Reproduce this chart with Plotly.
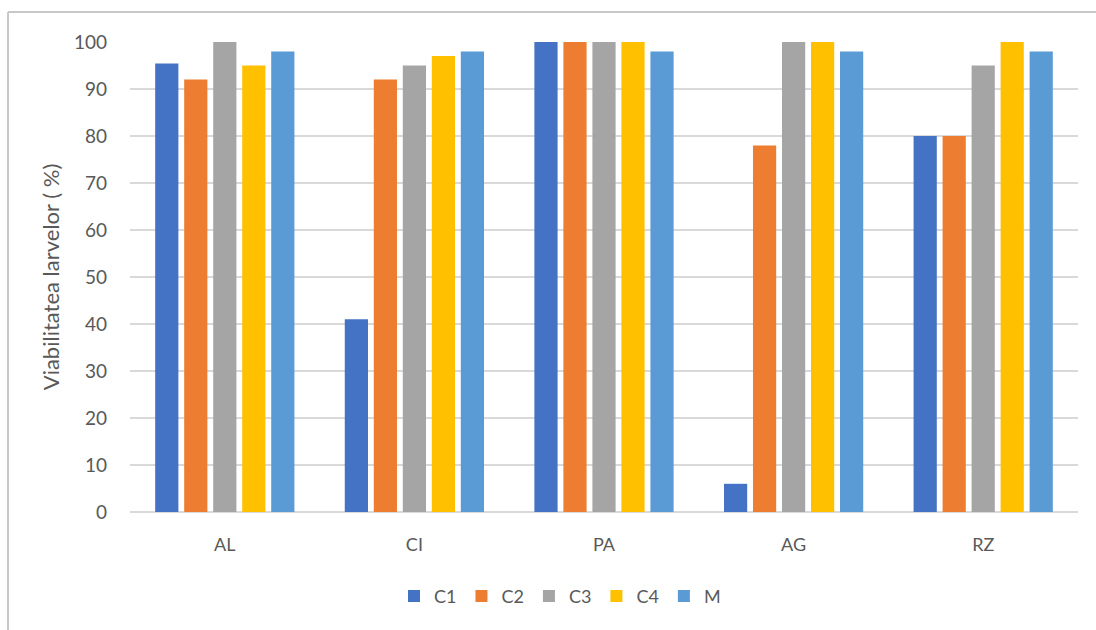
import plotly.graph_objects as go

# Larval viability per site and treatment
sites = ["AL", "CI", "PA", "AG", "RZ"]
c1 = [95.4, 41, 100, 6, 80]
c2 = [92, 92, 100, 78, 80]
c3 = [100, 95, 100, 100, 95]
c4 = [95, 97, 100, 100, 100]
m = [98, 98, 98, 98, 98]

series_names = ["C1", "C2", "C3", "C4", "M"]
series_values = [c1, c2, c3, c4, m]
colors = ["#4472C4", "#ED7D31", "#A5A5A5", "#FFC000", "#5B9BD5"]
y_ticks = list(range(0, 101, 10))

W, H = 1096, 630
L, R, T, B = 130, 18, 41.5, 117.5
pw, ph = W - L - R, H - T - B

def px_x(px):
    return (px - L) / pw

def px_y(py):
    return (H - B - py) / ph

fig = go.Figure()
for name, vals, col in zip(series_names, series_values, colors):
    fig.add_trace(go.Bar(
        x=sites, y=vals, name=name,
        marker=dict(color=col, line=dict(width=0)),
    ))

font_fam = "Lato, Open Sans, sans-serif"
text_col = "#595959"

fig.update_layout(
    width=W, height=H,
    margin=dict(l=L, r=R, t=T, b=B),
    paper_bgcolor="white", plot_bgcolor="white",
    barmode="group", bargap=0.235, bargroupgap=0.2,
    font=dict(family=font_fam, size=18, color=text_col),
    showlegend=True,
    legend=dict(
        orientation="h", x=px_x(560), xanchor="center",
        y=px_y(597), yanchor="middle",
        font=dict(size=18, color=text_col),
        itemwidth=30, traceorder="normal",
    ),
    xaxis=dict(
        showgrid=False, showline=False, zeroline=False,
        ticks="", ticklabelstandoff=20,
        tickfont=dict(size=18, color=text_col),
    ),
    yaxis=dict(
        range=[0, 100], tickvals=y_ticks,
        showgrid=True, gridcolor="#d9d9d9", gridwidth=1.5,
        zeroline=True, zerolinecolor="#d9d9d9", zerolinewidth=1.5,
        showline=False, ticks="", ticklabelstandoff=22,
        tickfont=dict(size=19, color=text_col),
        title=dict(text="Viabilitatea larvelor ( %)", standoff=8,
                   font=dict(size=22, color=text_col)),
    ),
    shapes=[
        dict(type="line", xref="paper", yref="paper",
             x0=px_x(8), x1=px_x(W + 2), y0=px_y(11.5), y1=px_y(11.5),
             line=dict(color="#c8c8c8", width=2)),
        dict(type="line", xref="paper", yref="paper",
             x0=px_x(8), x1=px_x(8), y0=px_y(11.5), y1=px_y(H + 2),
             line=dict(color="#c8c8c8", width=2)),
    ],
)

fig.write_html("out.html")
